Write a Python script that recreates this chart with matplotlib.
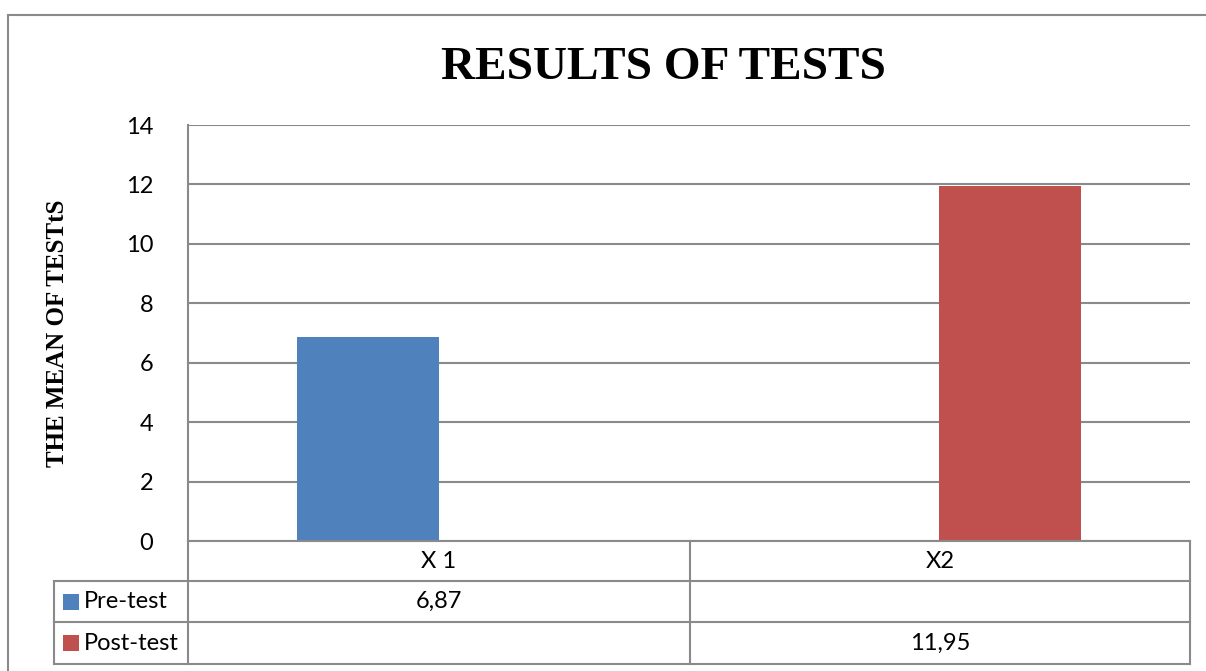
import matplotlib
matplotlib.use("Agg")
import matplotlib.pyplot as plt
import numpy as np
from matplotlib.patches import Rectangle
from matplotlib.lines import Line2D

# ---- data ----
categories = ["X 1", "X2"]
series_names = ["Pre-test", "Post-test"]
pre_test = [6.87, np.nan]
post_test = [np.nan, 11.95]
value_labels = [["6,87", ""], ["", "11,95"]]
series_colors = ["#4F81BD", "#C0504D"]
y_ticks = [0, 2, 4, 6, 8, 10, 12, 14]

title = "RESULTS OF TESTS"
y_label = "THE MEAN OF TESTtS"

W, H = 1206, 671
fig = plt.figure(figsize=(W / 100, H / 100), dpi=100)
fig.patch.set_facecolor("white")

grid_col = "#8a8a8a"
sans = ["Lato", "DejaVu Sans"]
serif = ["Liberation Serif", "DejaVu Serif"]
fs = 17


def fx(px):
    return px / W


def fy(py):
    return 1 - py / H


# outer chart frame (clipped at right / bottom like the screenshot)
fig.add_artist(Rectangle((fx(8), fy(15) - 1.2), 1.2, 1.2, transform=fig.transFigure,
                         fill=False, edgecolor=grid_col, lw=1.5))

ax = fig.add_axes([fx(188), fy(541), fx(1190) - fx(188), fy(125) - fy(541)])

x = np.arange(len(categories))
bw = 0.2834
ax.bar(x - bw / 2, pre_test, bw, color=series_colors[0], zorder=3)
ax.bar(x + bw / 2, post_test, bw, color=series_colors[1], zorder=3)

ax.set_xlim(-0.5, len(categories) - 0.5)
ax.set_ylim(0, 14)
ax.set_yticks(y_ticks)
ax.set_yticklabels([str(t) for t in y_ticks], fontfamily=sans, fontsize=fs)
ax.tick_params(axis="y", length=0, pad=25)
ax.set_xticks([])
ax.yaxis.grid(True, color=grid_col, lw=1.5, zorder=0)
for s in ["top", "right", "bottom"]:
    ax.spines[s].set_visible(False)
ax.spines["left"].set_color(grid_col)
ax.spines["left"].set_linewidth(1.5)

fig.text(fx(663), fy(79), title, ha="center", va="baseline",
         fontfamily=serif, fontweight="bold", fontsize=34)
fig.text(fx(58), fy(333), y_label, ha="center", va="center", rotation=90,
         fontfamily=serif, fontweight="bold", fontsize=18)

# ---- data table below the plot ----
rows_y = [541, 581, 622, 664]
col_x = [54, 188, 690, 1190]


def hline(x0, x1, y):
    fig.add_artist(Line2D([fx(x0), fx(x1)], [fy(y), fy(y)], transform=fig.transFigure,
                          color=grid_col, lw=1.5))


def vline(x, y0, y1):
    fig.add_artist(Line2D([fx(x), fx(x)], [fy(y0), fy(y1)], transform=fig.transFigure,
                          color=grid_col, lw=1.5))


hline(col_x[1], col_x[-1], rows_y[0])
for yy in rows_y[1:]:
    hline(col_x[0], col_x[-1], yy)
vline(col_x[1], rows_y[0], rows_y[-1])
vline(col_x[2], rows_y[0], rows_y[-1])
vline(col_x[3], rows_y[0], rows_y[-1])
vline(col_x[0], rows_y[1], rows_y[-1])

for i, cat in enumerate(categories):
    cx = (col_x[i + 1] + col_x[i + 2]) / 2
    fig.text(fx(cx), fy((rows_y[0] + rows_y[1]) / 2), cat, ha="center", va="center",
             fontfamily=sans, fontsize=fs)

for r, name in enumerate(series_names):
    cy = (rows_y[r + 1] + rows_y[r + 2]) / 2
    fig.add_artist(Rectangle((fx(63), fy(cy + 8)), fx(16), 16 / H, transform=fig.transFigure,
                             facecolor=series_colors[r], edgecolor="none"))
    fig.text(fx(84), fy(cy), name, ha="left", va="center", fontfamily=sans, fontsize=fs)
    for i in range(len(categories)):
        cx = (col_x[i + 1] + col_x[i + 2]) / 2
        fig.text(fx(cx), fy(cy), value_labels[r][i], ha="center", va="center",
                 fontfamily=sans, fontsize=fs)

fig.savefig("out.png", dpi=100)
